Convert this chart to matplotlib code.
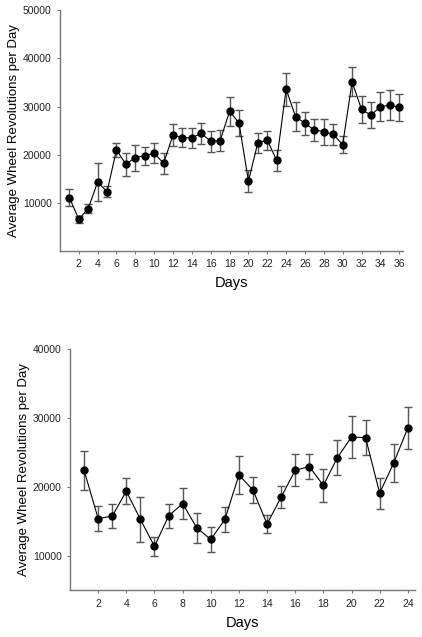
import matplotlib.pyplot as plt

plt.rcParams['font.family'] = ['Liberation Sans', 'DejaVu Sans']

days_a = list(range(1, 37))
mean_a = [11100, 6600, 8800, 14300, 12300, 21000, 18000, 19400, 19800, 20300,
          18200, 24100, 23500, 23500, 24400, 22800, 22900, 29000, 26600, 14500,
          22500, 23000, 18800, 33600, 27900, 26500, 25100, 24800, 24200, 22100,
          35100, 29400, 28200, 29950, 30300, 29800]
err_a = [1750, 750, 950, 3900, 1100, 1500, 2350, 2700, 1850, 2100,
         2200, 2300, 2000, 2050, 2250, 2150, 2150, 3000, 2650, 2250,
         2100, 1950, 2200, 3450, 3000, 2400, 2300, 2700, 2200, 1800,
         3000, 2850, 2650, 3050, 3050, 2800]

days_b = list(range(1, 25))
mean_b = [22400, 15400, 15800, 19400, 15300, 11400, 15800, 17600, 14100, 12400,
          15300, 21750, 19560, 14640, 18540, 22430, 22970, 20230, 24280, 27250,
          27160, 19120, 23500, 28570]
err_b = [2800, 1800, 1750, 1900, 3250, 1350, 1800, 2250, 2150, 1850,
         1750, 2700, 1900, 1350, 1650, 2350, 1800, 2450, 2500, 3100,
         2550, 2250, 2700, 3050]


def draw_panel(ax, days, mean, err, xmax, ymin, ymax, yticks):
    ax.errorbar(days, mean, yerr=err, fmt='none', ecolor='#555555',
                elinewidth=1, capsize=3, capthick=1)
    ax.plot(days, mean, color='black', linewidth=0.8, marker='o',
            markersize=5, markerfacecolor='black', markeredgecolor='black')
    ax.set_xlim(0, xmax)
    ax.set_ylim(ymin, ymax)
    ax.set_xticks(range(2, int(xmax) + 1, 2))
    ax.set_yticks(yticks)
    ax.spines['top'].set_visible(False)
    ax.spines['right'].set_visible(False)
    for side in ['left', 'bottom']:
        ax.spines[side].set_color('#777777')
        ax.spines[side].set_linewidth(1)
    ax.tick_params(direction='out', length=2.5, width=0.8, color='#777777',
                   labelsize=7.5, labelcolor='#222222')
    ax.set_xlabel('Days', fontsize=10.5, labelpad=5)
    ax.set_ylabel('Average Wheel Revolutions per Day', fontsize=9.5,
                  labelpad=2)


fig = plt.figure(figsize=(4.22, 6.37), dpi=100)
ax1 = fig.add_axes([0.142, 0.606, 0.813, 0.378])
ax2 = fig.add_axes([0.166, 0.073, 0.817, 0.379])

draw_panel(ax1, days_a, mean_a, err_a, 36.4, 0, 50000,
           [10000, 20000, 30000, 40000, 50000])
draw_panel(ax2, days_b, mean_b, err_b, 24.5, 5000, 40000,
           [10000, 20000, 30000, 40000])

fig.savefig('out.png', dpi=100)
